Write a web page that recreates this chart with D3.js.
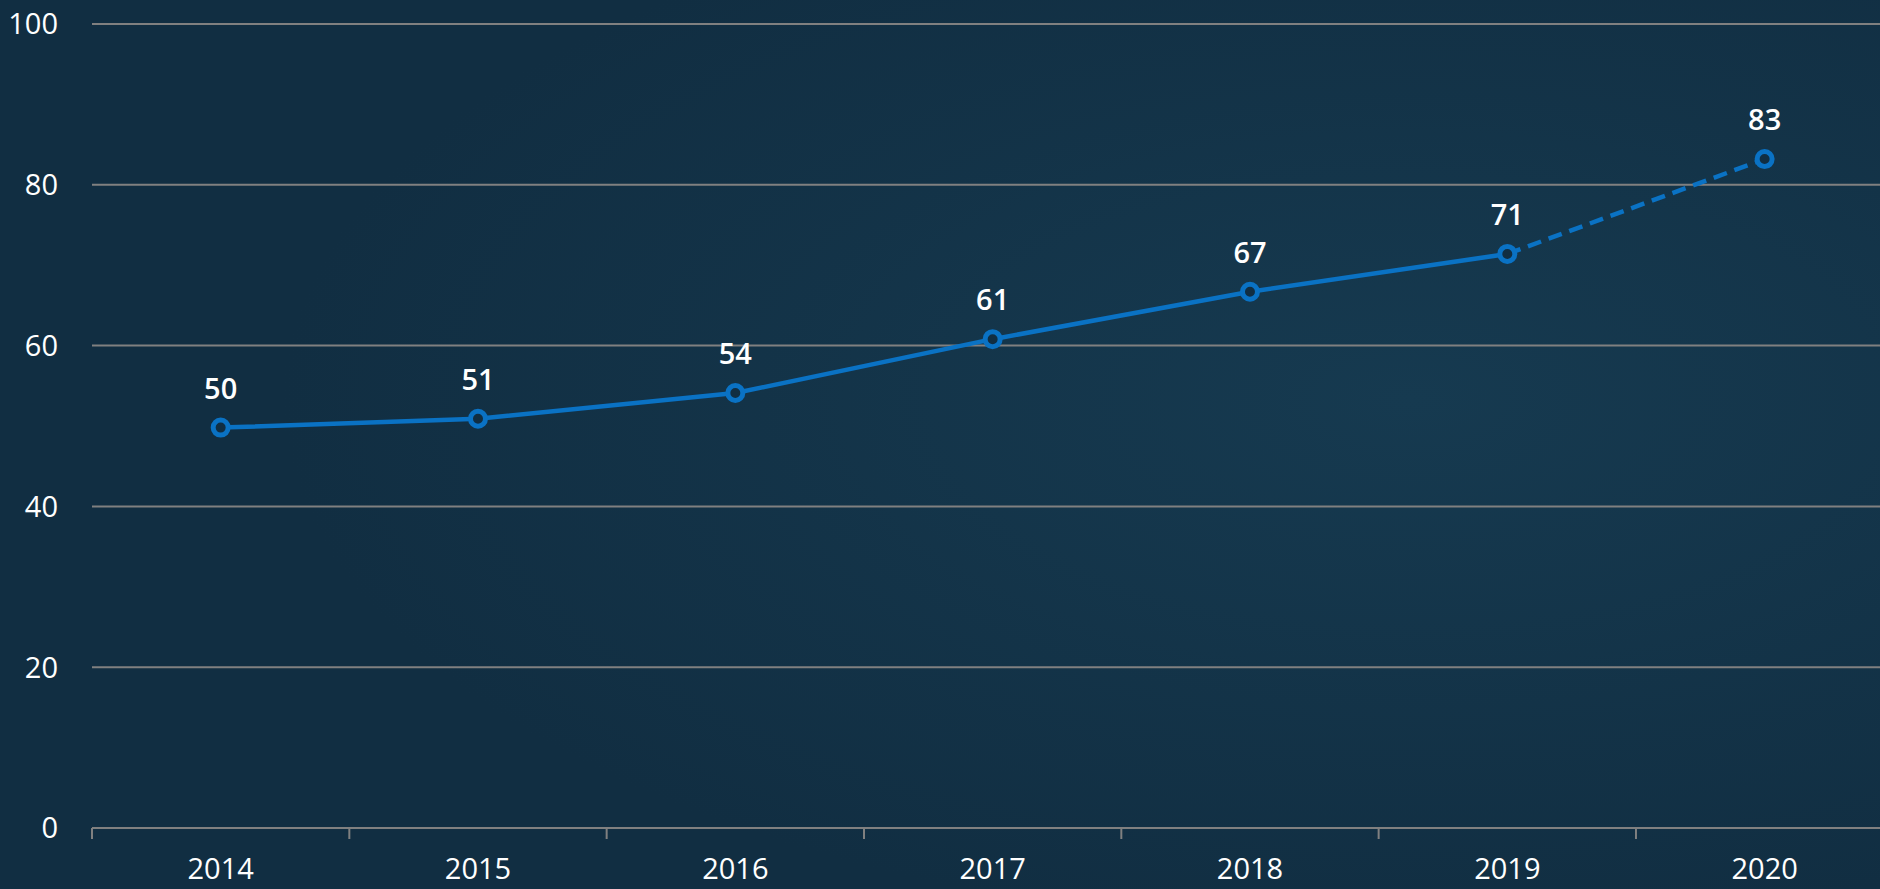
<!DOCTYPE html>
<html lang="en">
<head>
    <meta charset="UTF-8">
    <title>Line chart 2014-2020</title>
    <script src="https://d3js.org/d3.v7.min.js"></script>
    <style>
        html, body { margin: 0; padding: 0; background: #112e42; overflow: hidden; }
        svg { display: block; }
        .tick-label { fill: #ffffff; font-family: "Open Sans", "Noto Sans", sans-serif; font-size: 29px; }
        .value-label { fill: #ffffff; font-family: "Open Sans", "Noto Sans", sans-serif; font-size: 29px; font-weight: 600; }
        .grid line { stroke: #808080; stroke-width: 2px; }
    </style>
</head>
<body>
<svg id="chart" width="1880" height="889"></svg>
<script>
    // data
    const years = ["2014", "2015", "2016", "2017", "2018", "2019", "2020"];
    const values = [49.8, 50.9, 54.1, 60.8, 66.7, 71.4, 83.2];
    const estimated = [false, false, false, false, false, false, true];
    const yTicks = [0, 20, 40, 60, 80, 100];

    const svg = d3.select("#chart");
    const W = 1880, H = 889;

    // soft background glow
    const defs = svg.append("defs");
    const rg = defs.append("radialGradient").attr("id", "glow")
        .attr("cx", "0.75").attr("cy", "0.45").attr("r", "0.6");
    rg.append("stop").attr("offset", "0%").attr("stop-color", "#163a50");
    rg.append("stop").attr("offset", "100%").attr("stop-color", "#112e42");
    svg.append("rect").attr("width", W).attr("height", H).attr("fill", "url(#glow)");

    const margin = {left: 92, right: 1893.3, top: 24, bottom: 828};

    const x = d3.scaleBand().domain(years).range([margin.left, margin.right]).padding(0);
    const y = d3.scaleLinear().domain([0, 100]).range([margin.bottom, margin.top]);

    // horizontal grid
    svg.append("g").attr("class", "grid")
        .selectAll("line")
        .data(yTicks.filter(d => d > 0))
        .enter().append("line")
        .attr("x1", margin.left).attr("x2", W)
        .attr("y1", d => y(d)).attr("y2", d => y(d));

    // y axis labels
    const yAxis = svg.append("g")
        .attr("transform", `translate(${margin.left},0)`)
        .call(d3.axisLeft(y).tickValues(yTicks).tickSize(0).tickPadding(34));
    yAxis.select(".domain").remove();
    yAxis.selectAll("text").attr("class", "tick-label").attr("dy", "0.34em");

    // x axis
    const xAxis = svg.append("g")
        .attr("transform", `translate(0,${margin.bottom})`)
        .call(d3.axisBottom(x).tickSize(0).tickPadding(30));
    xAxis.select(".domain").remove();
    xAxis.selectAll("text").attr("class", "tick-label").attr("dy", "0.71em");

    svg.append("line")
        .attr("x1", margin.left).attr("x2", W)
        .attr("y1", margin.bottom).attr("y2", margin.bottom)
        .attr("stroke", "#808080").attr("stroke-width", 2);
    svg.append("g").selectAll("line")
        .data(years)
        .enter().append("line")
        .attr("x1", d => x(d)).attr("x2", d => x(d))
        .attr("y1", margin.bottom).attr("y2", margin.bottom + 11)
        .attr("stroke", "#808080").attr("stroke-width", 2);

    const cx = i => x(years[i]) + x.bandwidth() / 2;
    const pts = values.map((v, i) => [cx(i), y(v), estimated[i]]);

    // solid part and dashed estimate part
    const line = d3.line();
    const solid = pts.filter(p => !p[2]);
    const lastSolid = solid.length - 1;
    svg.append("path")
        .attr("d", line(solid.map(p => [p[0], p[1]])))
        .attr("fill", "none").attr("stroke", "#0a72c4").attr("stroke-width", 4.5);
    const dashed = pts.slice(lastSolid);
    svg.append("path")
        .attr("d", line(dashed.map(p => [p[0], p[1]])))
        .attr("fill", "none").attr("stroke", "#0a72c4").attr("stroke-width", 4.5)
        .attr("stroke-dasharray", "14,8");

    // markers
    svg.append("g").selectAll("circle")
        .data(pts)
        .enter().append("circle")
        .attr("cx", d => d[0]).attr("cy", d => d[1]).attr("r", 7.5)
        .attr("fill", "#112e42").attr("stroke", "#0a72c4").attr("stroke-width", 5);

    // value labels
    svg.append("g").selectAll("text")
        .data(values)
        .enter().append("text")
        .attr("class", "value-label")
        .attr("text-anchor", "middle")
        .attr("x", (d, i) => cx(i))
        .attr("y", d => y(d) - 29)
        .text(d => Math.round(d));
</script>
</body>
</html>
